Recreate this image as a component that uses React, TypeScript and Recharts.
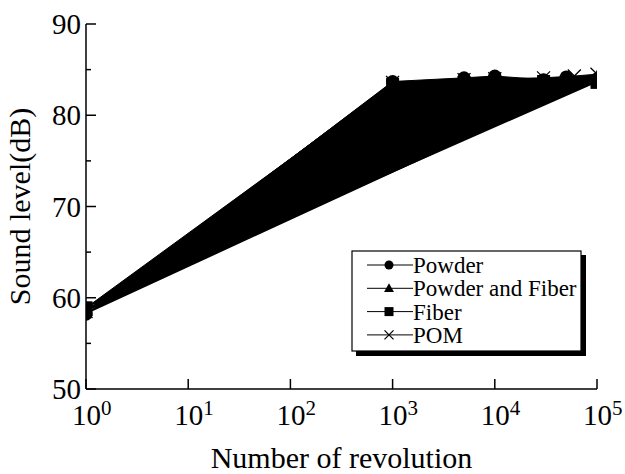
import React from 'react';
import { ScatterChart, Scatter, XAxis, YAxis, Legend } from 'recharts';

const revolutions = [1, 1000, 5000, 10000, 30000, 50000, 100000];
const pomRevolutions = [1, 1000, 5000, 10000, 30000, 60000, 100000];

const powder = [58.2, 83.7, 84.1, 84.3, 83.9, 84.2, 84.0];
const powderAndFiber = [58.6, 83.5, 83.8, 83.9, 83.8, 83.9, 84.2];
const fiber = [58.9, 83.4, 83.6, 83.7, 83.7, 83.7, 83.6];
const pom = [58.5, 83.6, 83.9, 84.0, 84.1, 84.3, 84.5];

const xTicks = [1, 10, 100, 1000, 10000, 100000];
const yTicks = [50, 55, 60, 65, 70, 75, 80, 85, 90];

const seriesNames = ['Powder', 'Powder and Fiber', 'Fiber', 'POM'];

const FONT = "'Liberation Serif', 'Times New Roman', serif";

const toPoints = (xs: number[], ys: number[]) => xs.map((x, i) => ({ x, y: ys[i] }));

const drawMarker = (kind: string, cx: number, cy: number, s: number) => {
  if (kind === 'circle') return <circle cx={cx} cy={cy} r={s} fill="#000" />;
  if (kind === 'triangle')
    return <polygon points={`${cx},${cy - s * 1.1} ${cx - s * 1.1},${cy + s * 0.8} ${cx + s * 1.1},${cy + s * 0.8}`} fill="#000" />;
  if (kind === 'square') return <rect x={cx - s} y={cy - s} width={s * 2} height={s * 2} fill="#000" />;
  return (
    <g stroke="#000" strokeWidth={1.3}>
      <line x1={cx - s} y1={cy - s} x2={cx + s} y2={cy + s} />
      <line x1={cx - s} y1={cy + s} x2={cx + s} y2={cy - s} />
    </g>
  );
};

const markerKinds = ['circle', 'triangle', 'square', 'cross'];

const shapeFor = (kind: string) => (props: any) => <g>{drawMarker(kind, props.cx, props.cy, 6.5)}</g>;

const BottomTick = ({ x, y, payload }: any) => {
  const exp = Math.round(Math.log10(payload.value));
  return (
    <g>
      <line x1={x} y1={y} x2={x} y2={y - 10} stroke="#000" strokeWidth={1.5} />
      <text x={x - 14} y={y + 36} fontFamily={FONT} fontSize={29} fill="#000">
        <tspan>10</tspan>
        <tspan dy={-10} fontSize={21}>{exp}</tspan>
      </text>
    </g>
  );
};

const TopTick = ({ x, y }: any) => (
  <line x1={x} y1={y} x2={x} y2={y + 11} stroke="#000" strokeWidth={1.5} />
);

const LeftTick = ({ x, y, payload }: any) => {
  const major = payload.value % 10 === 0;
  return (
    <g>
      <line x1={x} y1={y} x2={x + (major ? 10 : 5)} y2={y} stroke="#000" strokeWidth={1.5} />
      {major && (
        <text x={x - 5} y={y + 10} textAnchor="end" fontFamily={FONT} fontSize={29} fill="#000">
          {payload.value}
        </text>
      )}
    </g>
  );
};

const RightTick = ({ x, y, payload }: any) => {
  const major = payload.value % 10 === 0;
  return <line x1={x} y1={y} x2={x - (major ? 11 : 6)} y2={y} stroke="#000" strokeWidth={1.5} />;
};

const LegendBox = () => (
  <svg width={236} height={108} style={{ display: 'block' }}>
    <rect x={5} y={5} width={230} height={101} fill="#000" />
    <rect x={1} y={1} width={229} height={100} fill="#fff" stroke="#000" strokeWidth={1.2} />
    {seriesNames.map((name, i) => {
      const cy = 15 + i * 23.3;
      return (
        <g key={name}>
          <line x1={16} y1={cy} x2={62} y2={cy} stroke="#000" strokeWidth={1} />
          {drawMarker(markerKinds[i], 38, cy, 4.5)}
          <text x={62} y={cy + 8} fontFamily={FONT} fontSize={23} fill="#000">
            {name}
          </text>
        </g>
      );
    })}
  </svg>
);

const allSeries = [
  { name: seriesNames[0], data: toPoints(revolutions, powder) },
  { name: seriesNames[1], data: toPoints(revolutions, powderAndFiber) },
  { name: seriesNames[2], data: toPoints(revolutions, fiber) },
  { name: seriesNames[3], data: toPoints(pomRevolutions, pom) },
];

export default function App() {
  return (
    <div style={{ position: 'absolute', left: 0, top: 0, background: '#fff' }}>
      <ScatterChart width={625} height={474} margin={{ top: 24, right: 28, bottom: 0, left: 0 }}>
        <XAxis
          type="number"
          dataKey="x"
          scale="log"
          domain={[1, 100000]}
          ticks={xTicks}
          allowDataOverflow
          height={85}
          tickSize={0}
          tickMargin={0}
          tickLine={false}
          tick={<BottomTick />}
          axisLine={{ stroke: '#000', strokeWidth: 1.5 }}
          label={{ value: 'Number of revolution', position: 'insideBottom', offset: 6, fontFamily: FONT, fontSize: 30, fill: '#000' }}
        />
        <XAxis
          xAxisId="top"
          orientation="top"
          type="number"
          scale="log"
          domain={[1, 100000]}
          ticks={xTicks}
          allowDataOverflow
          height={0}
          tickSize={0}
          tickMargin={0}
          tickLine={false}
          tick={<TopTick />}
          axisLine={{ stroke: '#000', strokeWidth: 1.5 }}
        />
        <YAxis
          type="number"
          dataKey="y"
          domain={[50, 90]}
          ticks={yTicks}
          allowDataOverflow
          width={86}
          tickSize={0}
          tickMargin={0}
          tickLine={false}
          tick={<LeftTick />}
          axisLine={{ stroke: '#000', strokeWidth: 1.5 }}
          label={{ value: 'Sound level(dB)', angle: -90, position: 'insideLeft', offset: 19, fontFamily: FONT, fontSize: 30, fill: '#000', style: { textAnchor: 'middle' } }}
        />
        <YAxis
          yAxisId="right"
          orientation="right"
          type="number"
          domain={[50, 90]}
          ticks={yTicks}
          allowDataOverflow
          width={0}
          tickSize={0}
          tickMargin={0}
          tickLine={false}
          tick={<RightTick />}
          axisLine={{ stroke: '#000', strokeWidth: 1.5 }}
        />
        <Legend
          layout="vertical"
          align="center"
          verticalAlign="middle"
          wrapperStyle={{ left: 351, top: 250, width: 236, height: 108 }}
          content={<LegendBox />}
        />
        {allSeries.map((s, i) => (
          <Scatter
            key={s.name}
            name={s.name}
            data={s.data}
            fill="#000"
            line={{ stroke: '#000', strokeWidth: 1, fill: '#000' }}
            shape={shapeFor(markerKinds[i])}
            isAnimationActive={false}
          />
        ))}
      </ScatterChart>
    </div>
  );
}
